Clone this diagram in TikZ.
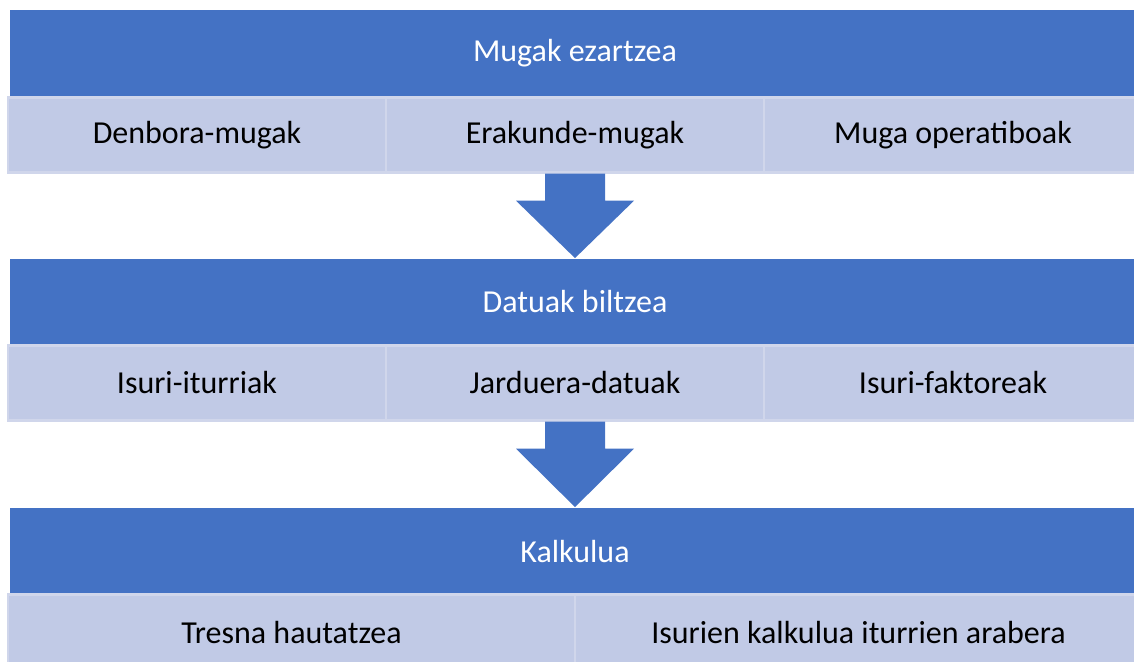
\documentclass[tikz,border=0pt]{standalone}
\usepackage{fontspec}
\setmainfont{Carlito}
\usetikzlibrary{calc}
\definecolor{headblue}{RGB}{68,114,196}
\definecolor{subfill}{RGB}{193,202,230}
\definecolor{subline}{RGB}{208,214,235}

\begin{document}
\begin{tikzpicture}[x=1pt, y=1pt,
  header/.style={fill=headblue, text=white, inner sep=0pt,
    minimum width=565pt, minimum height=43.5pt, font=\fontsize{16}{19}\selectfont},
  item/.style={fill=subfill, draw=subline, line width=1.2pt, inner sep=0pt,
    minimum width=189pt, minimum height=37.5pt, font=\fontsize{16}{19}\selectfont},
  wide item/.style={item, minimum width=283.5pt},
  step arrow/.style={fill=headblue}
]
\useasboundingbox (0,0) rectangle (567,330.5);
\clip (0,0) rectangle (567,330.5);

\node[header] (h1) at (287.5,303.75) {Mugak ezartzea};
\node[item] (s11) at (98.5,263) {Denbora-mugak};
\node[item] (s12) at (287.5,263) {Erakunde-mugak};
\node[item] (s13) at (476.5,263) {Muga operatiboak};

\node[header] (h2) at (287.5,179.5) {Datuak biltzea};
\node[item] (s21) at (98.5,139) {Isuri-iturriak};
\node[item] (s22) at (287.5,139) {Jarduera-datuak};
\node[item] (s23) at (476.5,139) {Isuri-faktoreak};

\node[header] (h3) at (287.5,55) {Kalkulua};
\node[wide item] (s31) at (145.75,14.5) {Tresna hautatzea};
\node[wide item] (s32) at (429.25,14.5) {Isurien kalkulua iturrien arabera};

% block arrows between the stages
\fill[step arrow] ($(s12.south)+(-15,0)$) -- ($(s12.south)+(15,0)$)
  -- ($(s12.south)+(15,-13.5)$) -- ($(s12.south)+(29.5,-13.5)$)
  -- (h2.north) -- ($(s12.south)+(-29.5,-13.5)$)
  -- ($(s12.south)+(-15,-13.5)$) -- cycle;
\fill[step arrow] ($(s22.south)+(-15,0)$) -- ($(s22.south)+(15,0)$)
  -- ($(s22.south)+(15,-13.5)$) -- ($(s22.south)+(29.5,-13.5)$)
  -- (h3.north) -- ($(s22.south)+(-29.5,-13.5)$)
  -- ($(s22.south)+(-15,-13.5)$) -- cycle;
\end{tikzpicture}
\end{document}
